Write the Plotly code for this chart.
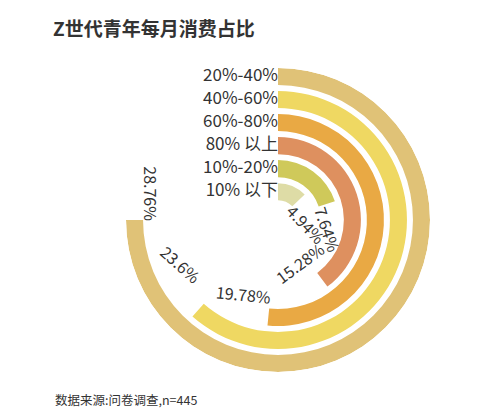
import math
import plotly.graph_objects as go

categories = ["10% 以下", "10%-20%", "80% 以上", "60%-80%", "40%-60%", "20%-40%"]
values = [4.94, 7.64, 15.28, 19.78, 23.6, 28.76]
labels = ["4.94%", "7.64%", "15.28%", "19.78%", "23.6%", "28.76%"]
colors = ["#DEDCA6", "#CFC95A", "#DE905F", "#E9A944", "#EFD862", "#E0C277"]

MAXV = 28.76 / 0.75  # 28.76 -> 270 degrees
W, H = 500, 419
CX, CY, RPX = 270, 212, 152
RMAX = 6.6
THICK = 0.74

fig = go.Figure()
for i, (c, v, col) in enumerate(zip(categories, values, colors)):
    ang = v / MAXV * 360
    fig.add_trace(go.Barpolar(r=[THICK], base=[0.86 + i], theta=[ang / 2], width=[ang],
                              marker=dict(color=col, line=dict(width=0)), showlegend=False,
                              hoverinfo="skip"))
fig.add_trace(go.Scatterpolar(r=[0.86 + i + THICK / 2 for i in range(6)], theta=[0] * 6,
                              mode="text", text=categories, textposition="middle left",
                              textfont=dict(size=17, color="#333", family="Noto Sans CJK SC"),
                              showlegend=False, hoverinfo="skip"))

anns = []
for i, (v, t) in enumerate(zip(values, labels)):
    ang = v / MAXV * 360
    rp = (0.86 + i + THICK / 2) / RMAX * RPX
    a = ang + math.degrees(26 / rp)
    x = CX + rp * math.sin(math.radians(a))
    y = CY - rp * math.cos(math.radians(a))
    ta = ang if ang < 90 else ang - 180
    anns.append(dict(x=x / W, y=1 - y / H, xref="paper", yref="paper", text=t, showarrow=False,
                     textangle=ta, font=dict(size=16, color="#333", family="Noto Sans CJK SC")))

anns.append(dict(x=0.085, y=1 - 20 / H, xref="paper", yref="paper", text="<b>Z世代青年每月消费占比</b>",
                 showarrow=False, xanchor="left", yanchor="middle",
                 font=dict(size=19, color="#333", family="Noto Sans CJK SC")))
anns.append(dict(x=0.09, y=1 - 391 / H, xref="paper", yref="paper", text="数据来源:问卷调查,n=445",
                 showarrow=False, xanchor="left", yanchor="middle",
                 font=dict(size=12.5, color="#333", family="Noto Sans CJK SC")))

fig.update_layout(
    width=W, height=H, margin=dict(l=0, r=0, t=0, b=0), paper_bgcolor="white",
    annotations=anns,
    polar=dict(domain=dict(x=[(CX - RPX) / W, (CX + RPX) / W], y=[1 - (CY + RPX) / H, 1 - (CY - RPX) / H]),
               bgcolor="white", barmode="overlay",
               radialaxis=dict(range=[0, RMAX], visible=False),
               angularaxis=dict(rotation=90, direction="clockwise", visible=False)),
)
fig.write_html("out.html")
